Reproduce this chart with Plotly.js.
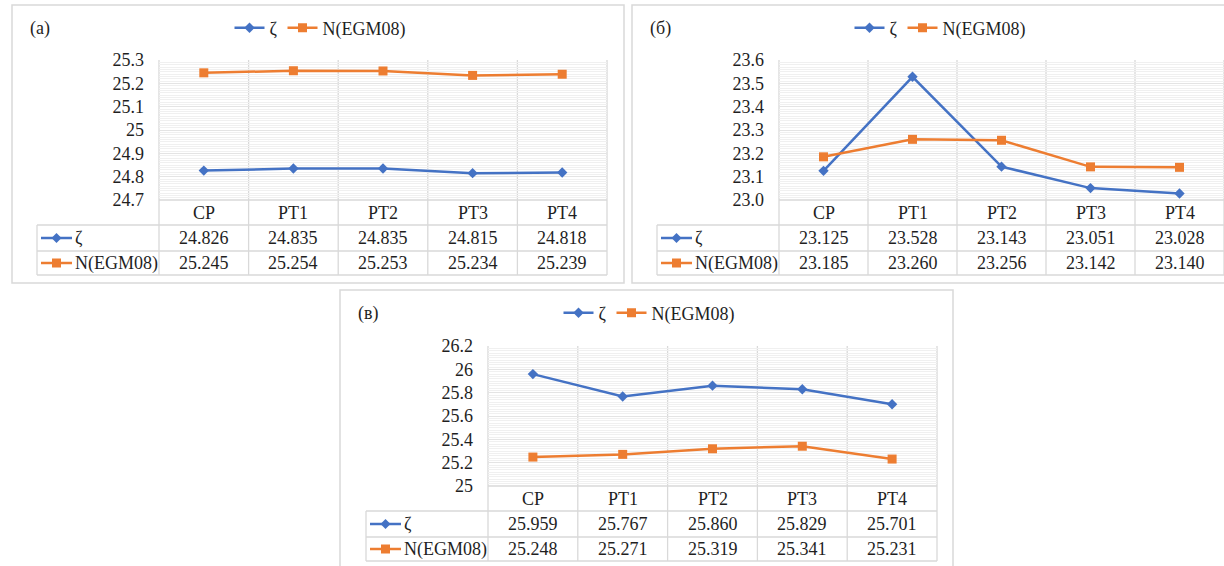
<!DOCTYPE html>
<html><head><meta charset="utf-8">
<script src="https://cdn.plot.ly/plotly-3.0.1.min.js"></script>
<style>
html,body{margin:0;padding:0;width:1224px;height:566px;overflow:hidden;background:#fff;}
#chart svg text{font-family:'Liberation Serif','Times New Roman',serif !important;}
</style></head><body>
<div id="chart" style="width:1224px;height:566px"></div>
<script>
// ---- data ----
const categories = ['CP', 'PT1', 'PT2', 'PT3', 'PT4'];
const seriesNames = ['ζ', 'N(EGM08)'];
const panelLabels = ['(а)', '(б)', '(в)'];
const zetaA = [24.826, 24.835, 24.835, 24.815, 24.818];
const egmA  = [25.245, 25.254, 25.253, 25.234, 25.239];
const zetaB = [23.125, 23.528, 23.143, 23.051, 23.028];
const egmB  = [23.185, 23.260, 23.256, 23.142, 23.140];
const zetaC = [25.959, 25.767, 25.860, 25.829, 25.701];
const egmC  = [25.248, 25.271, 25.319, 25.341, 25.231];

const W = 1224, H = 566;
const BLUE = '#4472C4', ORANGE = '#ED7D31', GRID = '#d9d9d9', TXT = '#1f1f1f';
const FONT = 'Liberation Serif';
const fnt = {family: FONT, size: 18, color: TXT};
const px = X => X / W;
const py = Y => 1 - Y / H;

const panels = [
  {label: panelLabels[0], zeta: zetaA, egm: egmA, range: [24.7, 25.3], dtick: 0.1, minor: 0.01, fmt: '',
   plot: [159, 607, 60, 200], tableLeft: 37, labelPos: [40, 28], legendPos: [320, 28], frame: [12, 5, 624, 283]},
  {label: panelLabels[1], zeta: zetaB, egm: egmB, range: [23.0, 23.6], dtick: 0.1, minor: 0.01, fmt: '.1f',
   plot: [779, 1224, 60, 200], tableLeft: 657, labelPos: [660, 28], legendPos: [940, 28], frame: [632, 5, 1240, 283]},
  {label: panelLabels[2], zeta: zetaC, egm: egmC, range: [25.0, 26.2], dtick: 0.2, minor: 0.02, fmt: '',
   plot: [488, 937, 346, 486], tableLeft: 366, labelPos: [368, 313], legendPos: [649, 313], frame: [340, 290, 953, 590]}
];

const traces = [], shapes = [], annotations = [];
const layout = {width: W, height: H, margin: {l: 0, r: 0, t: 0, b: 0}, font: fnt, showlegend: true,
  paper_bgcolor: '#fff', plot_bgcolor: 'rgba(0,0,0,0)'};
const gl = (x0, y0, x1, y1, color, width) => shapes.push({type: 'line', xref: 'paper', yref: 'paper',
  x0: px(x0), y0: py(y0), x1: px(x1), y1: py(y1), line: {color: color || GRID, width: width || 1.3}, layer: 'below'});

panels.forEach((p, i) => {
  const sfx = i === 0 ? '' : String(i + 1);
  const xa = 'x' + sfx, ya = 'y' + sfx, lg = 'legend' + sfx;
  const [x0, x1, y0, y1] = p.plot;
  const n = categories.length;
  const rows = [y1, y1 + 25, y1 + 51, y1 + 75];
  const rc = k => (rows[k] + rows[k + 1]) / 2;
  // frame
  shapes.push({type: 'rect', xref: 'paper', yref: 'paper', x0: px(p.frame[0]), x1: px(p.frame[2]),
    y0: py(p.frame[1]), y1: py(p.frame[3]), line: {color: GRID, width: 1.5}, layer: 'below'});
  // vertical boundaries through plot and table
  for (let k = 0; k <= n; k++) { const X = x0 + k * (x1 - x0) / n; gl(X, y0, X, rows[3]); }
  gl(x0, y1, x1, y1);
  for (let k = 1; k <= 3; k++) gl(p.tableLeft, rows[k], x1, rows[k]);
  gl(p.tableLeft, rows[1], p.tableLeft, rows[3]);
  // row keys
  const cols = [BLUE, ORANGE];
  for (let s = 0; s < 2; s++) {
    const yc = rc(s + 1), lx = p.tableLeft + 4, cx = lx + 15.5;
    gl(lx, yc, lx + 31, yc, cols[s], 2.5);
    const hw = s === 0 ? 5 : 4.5;
    const path = s === 0
      ? `M${px(cx - hw)},${py(yc)} L${px(cx)},${py(yc - hw)} L${px(cx + hw)},${py(yc)} L${px(cx)},${py(yc + hw)} Z`
      : `M${px(cx - hw)},${py(yc - hw)} L${px(cx + hw)},${py(yc - hw)} L${px(cx + hw)},${py(yc + hw)} L${px(cx - hw)},${py(yc + hw)} Z`;
    shapes.push({type: 'path', xref: 'paper', yref: 'paper', path: path, fillcolor: cols[s], line: {width: 0}});
    annotations.push({xref: 'paper', yref: 'paper', x: px(lx + 32), y: py(yc), xanchor: 'left', yanchor: 'middle',
      text: seriesNames[s], showarrow: false, font: fnt});
  }
  // category row and values
  const vals = [p.zeta, p.egm];
  categories.forEach((c, j) => {
    annotations.push({xref: xa, yref: 'paper', x: c, y: py(rc(0)), yanchor: 'middle', text: c, showarrow: false, font: fnt});
    for (let s = 0; s < 2; s++)
      annotations.push({xref: xa, yref: 'paper', x: c, y: py(rc(s + 1)), yanchor: 'middle',
        text: vals[s][j].toFixed(3), showarrow: false, font: fnt});
  });
  annotations.push({xref: 'paper', yref: 'paper', x: px(p.labelPos[0]), y: py(p.labelPos[1]), xanchor: 'center',
    yanchor: 'middle', text: p.label, showarrow: false, font: fnt});
  // traces
  traces.push({x: categories, y: p.zeta, name: seriesNames[0], type: 'scatter', mode: 'lines+markers',
    xaxis: xa, yaxis: ya, legend: lg, line: {color: BLUE, width: 2.5}, marker: {symbol: 'diamond', size: 8, color: BLUE}});
  traces.push({x: categories, y: p.egm, name: seriesNames[1], type: 'scatter', mode: 'lines+markers',
    xaxis: xa, yaxis: ya, legend: lg, line: {color: ORANGE, width: 2.5}, marker: {symbol: 'square', size: 9, color: ORANGE}});
  // axes
  layout['xaxis' + sfx] = {domain: [px(x0), px(x1)], anchor: ya, type: 'category', range: [-0.5, n - 0.5],
    showgrid: false, showticklabels: false, zeroline: false, showline: false, fixedrange: true};
  const yax = {domain: [py(y1), py(y0)], anchor: xa, range: p.range, dtick: p.dtick, tick0: p.range[0],
    showgrid: true, gridcolor: '#e4e4e4', zeroline: false, showline: false, ticks: '', ticklabelstandoff: 14,
    tickfont: fnt, minor: {dtick: p.minor, showgrid: true, gridcolor: '#f0f0f0'}, fixedrange: true};
  if (p.fmt) yax.tickformat = p.fmt;
  layout['yaxis' + sfx] = yax;
  layout[lg] = {orientation: 'h', x: px(p.legendPos[0]), xanchor: 'center', y: py(p.legendPos[1]), yanchor: 'middle',
    font: fnt, itemwidth: 30, bgcolor: 'rgba(0,0,0,0)'};
});
layout.shapes = shapes;
layout.annotations = annotations;
Plotly.newPlot('chart', traces, layout, {displayModeBar: false});
</script>
</body></html>
